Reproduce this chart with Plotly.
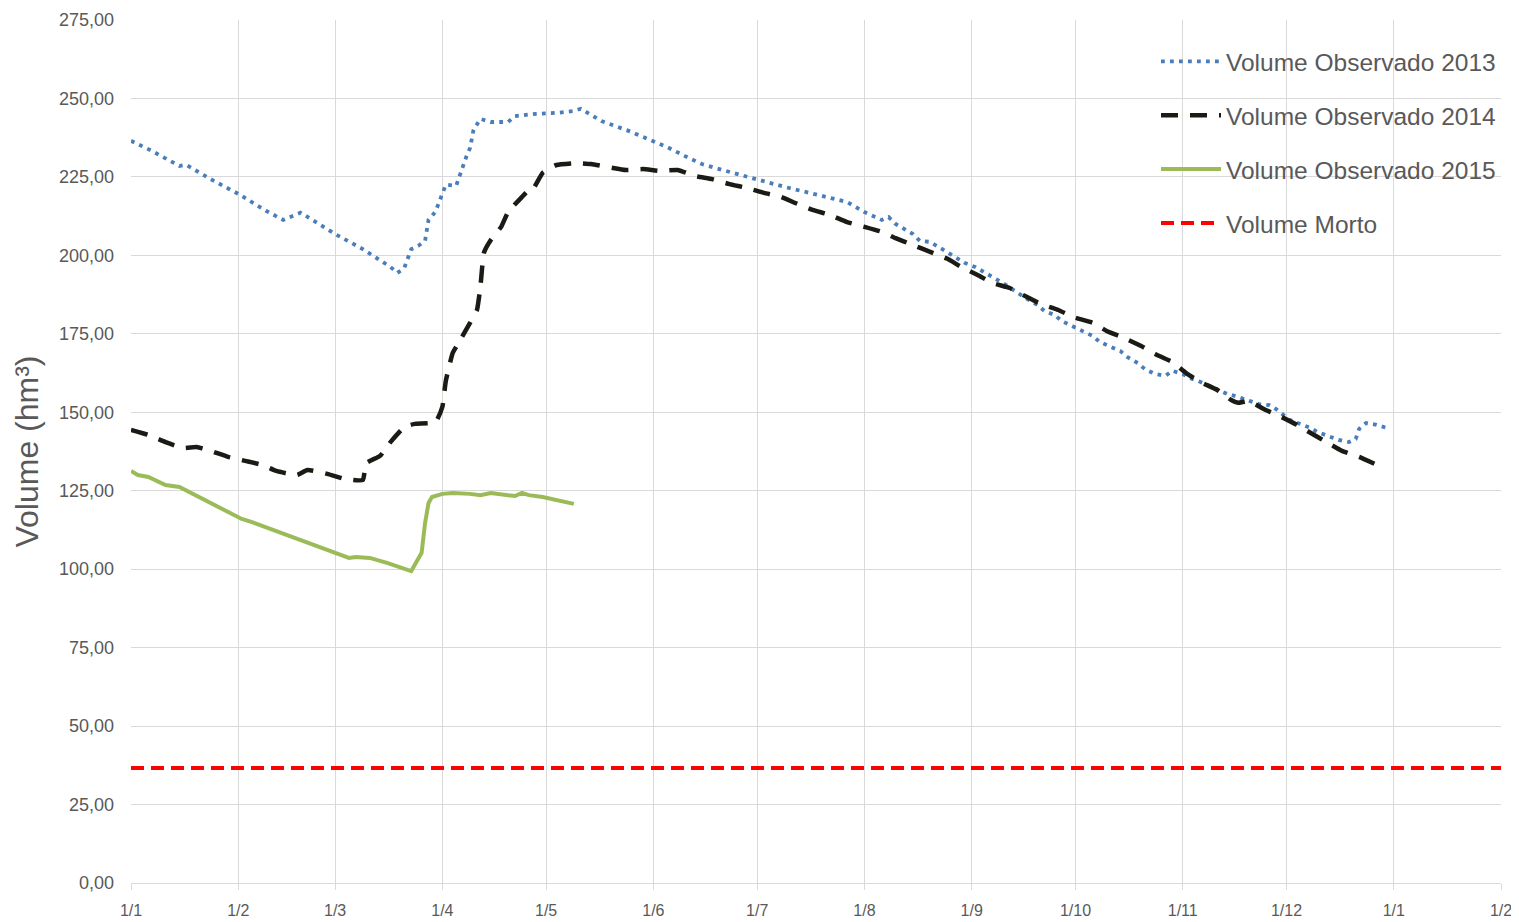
import plotly.graph_objects as go

# Reference year used to place day/month on a common axis
REF_YEAR = "2013"

dates_2013 = ["01-01","01-07","01-15","01-17","01-24","02-01","02-09","02-14","02-19","03-01",
              "03-09","03-17","03-19","03-21","03-23","03-25","03-27","03-28","03-30","03-31",
              "04-01","04-02","04-05","04-06","04-07","04-08","04-09","04-10","04-12","04-15",
              "04-20","04-22","04-28","05-04","05-09","05-11","05-17","05-25","05-30","06-05",
              "06-10","06-15","06-21","06-27","07-03","07-09","07-15","07-21","07-27","08-01",
              "08-06","08-08","08-10","08-15","08-17","08-20","08-25","08-30","09-02","09-05",
              "09-07","09-10","09-17","09-20","09-22","09-25","09-27","09-30","10-03","10-06",
              "10-08","10-11","10-14","10-16","10-19","10-21","10-24","10-27","10-29","11-01",
              "11-03","11-06","11-11","11-14","11-17","11-20","11-23","11-26","11-28","12-02",
              "12-05","12-08","12-10","12-13","12-16","12-19","12-21","12-22","12-24","12-27",
              "12-30"]
vol_2013 = [236.5,233.3,228.5,228.8,224.3,219.6,214.2,211.3,213.6,206.8,
            202.0,196.3,194.4,196.0,202.0,203.0,204.6,211.3,213.9,216.7,
            219.9,222.5,222.2,225.0,228.5,231.7,234.2,240.0,243.5,242.5,
            242.5,244.4,245.1,245.4,246.0,246.7,242.8,239.6,237.4,234.5,
            231.7,229.1,227.2,225.3,223.7,221.8,220.2,218.6,217.0,213.8,
            211.3,212.2,210.0,206.8,204.6,204.3,200.8,197.6,196.3,194.4,
            192.8,191.2,186.1,184.2,182.3,181.0,179.1,177.5,176.2,174.3,
            172.4,170.8,169.5,167.6,165.7,163.8,162.2,161.6,163.2,162.2,
            160.9,159.7,157.4,155.8,154.9,153.6,152.6,152.3,151.0,147.5,
            146.3,145.0,143.7,142.4,141.2,140.5,141.5,144.7,146.6,146.0,
            145.0]

dates_2014 = ["01-01","01-06","01-11","01-16","01-20","01-24","01-29","02-03","02-08","02-12",
              "02-18","02-21","02-27","03-04","03-09","03-10","03-14","03-17","03-21","03-24",
              "03-30","04-01","04-02","04-04","04-06","04-09","04-11","04-12","04-13","04-15",
              "04-18","04-20","04-24","04-26","04-27","04-30","05-04","05-10","05-14","05-20",
              "05-24","05-29","06-03","06-08","06-13","06-18","06-23","06-28","07-03","07-08",
              "07-12","07-17","07-22","07-27","08-01","08-06","08-10","08-15","08-20","08-25",
              "08-29","09-03","09-07","09-12","09-17","09-21","09-26","10-01","10-06","10-10",
              "10-15","10-20","10-24","10-29","11-02","11-06","11-11","11-15","11-17","11-20",
              "11-25","11-29","12-04","12-08","12-13","12-17","12-22","12-27"]
vol_2014 = [144.4,142.8,140.5,138.6,138.9,137.7,135.8,134.5,133.2,131.3,
            130.0,131.6,130.3,128.7,128.4,133.8,136.1,140.5,145.3,146.3,
            146.8,151.7,160.0,168.9,172.7,178.5,182.6,190.0,200.8,204.9,
            209.1,213.8,218.6,220.8,220.8,226.3,228.8,229.4,229.1,227.9,
            227.2,227.5,226.9,227.2,225.3,224.3,222.7,221.5,219.9,218.6,
            216.7,214.5,212.9,210.6,209.1,207.5,205.5,203.3,201.1,198.9,
            196.3,193.6,191.2,189.6,186.7,184.5,182.6,180.1,178.5,175.9,
            173.7,171.1,168.6,166.0,162.5,159.7,157.1,153.9,153.0,153.6,
            150.7,148.8,146.0,143.4,140.2,137.7,135.8,133.3]

dates_2015 = ["01-01","01-03","01-06","01-08","01-11","01-15","01-21","01-24","01-29","02-02",
              "02-05","02-09","02-18","02-26","03-05","03-07","03-11","03-16","03-20","03-23",
              "03-26","03-27","03-28","03-29","04-01","04-04","04-09","04-12","04-15","04-19",
              "04-22","04-24","04-26","04-30","05-04","05-09"]
vol_2015 = [131.3,130.0,129.4,128.4,126.8,126.2,122.7,121.1,118.2,116.0,
            115.0,113.4,109.9,106.4,103.6,103.9,103.6,102.0,100.4,99.4,
            105.2,114.7,121.1,123.0,124.0,124.3,124.0,123.6,124.3,123.6,
            123.3,124.3,123.6,123.0,122.1,120.8]

dates_morto = ["2013-01-01", "2014-02-01"]
vol_morto = [36.65, 36.65]

names = ["Volume Observado 2013", "Volume Observado 2014", "Volume Observado 2015", "Volume Morto"]
tick_vals_y = [0, 25, 50, 75, 100, 125, 150, 175, 200, 225, 250, 275]

def full(ds):
    return [f"{REF_YEAR}-{d}" for d in ds]

fig = go.Figure()
fig.add_trace(go.Scatter(x=full(dates_2013), y=vol_2013, mode="lines", name=names[0],
                         legendgroup="a",
                         line=dict(color="#4a7ebb", width=3.8, dash="3.8px,5.2px")))
fig.add_trace(go.Scatter(x=full(dates_2014), y=vol_2014, mode="lines", name=names[1],
                         legendgroup="b",
                         line=dict(color="#1c1a14", width=4.5, dash="17px,12px", shape="spline", smoothing=0.4)))
fig.add_trace(go.Scatter(x=full(dates_2015), y=vol_2015, mode="lines", name=names[2],
                         legendgroup="c",
                         line=dict(color="#9bbb59", width=4)))
fig.add_trace(go.Scatter(x=dates_morto, y=vol_morto, mode="lines", name=names[3],
                         legendgroup="d",
                         line=dict(color="#ff0000", width=4, dash="13px,7px")))

grid = "#d9d9d9"
txt = "#595959"
# the page adds an 8px body margin, compensated in the figure margins
fig.update_layout(
    width=1519, height=922,
    margin=dict(l=123, r=26, t=12, b=47),
    paper_bgcolor="white", plot_bgcolor="white",
    separators=",.",
    font=dict(family="Liberation Sans, Arial, sans-serif", color=txt, size=15),
    showlegend=True,
    legend=dict(x=1.0, y=0.978, xanchor="right", yanchor="top",
                bgcolor="rgba(0,0,0,0)", font=dict(size=24.5, color=txt),
                tracegroupgap=19, itemwidth=60),
    xaxis=dict(type="date", range=["2013-01-01", "2014-02-01"],
               dtick="M1", tick0="2013-01-01", tickformat="%-d/%-m",
               showgrid=True, gridcolor=grid, gridwidth=1,
               showline=True, linecolor=grid, linewidth=1,
               ticks="outside", ticklen=6, tickcolor=grid,
               ticklabelstandoff=7,
               tickfont=dict(size=16, color=txt), zeroline=False,
               automargin=False),
    yaxis=dict(range=[0, 275], tickvals=tick_vals_y, tickformat=".2f",
               showgrid=True, gridcolor=grid, gridwidth=1,
               showline=False, zeroline=False, ticks="",
               ticklabelstandoff=16,
               tickfont=dict(size=18, color=txt), automargin=False,
               title=dict(text="Volume (hm³)", font=dict(size=32, color=txt), standoff=10)),
)

fig.write_html("out.html")
